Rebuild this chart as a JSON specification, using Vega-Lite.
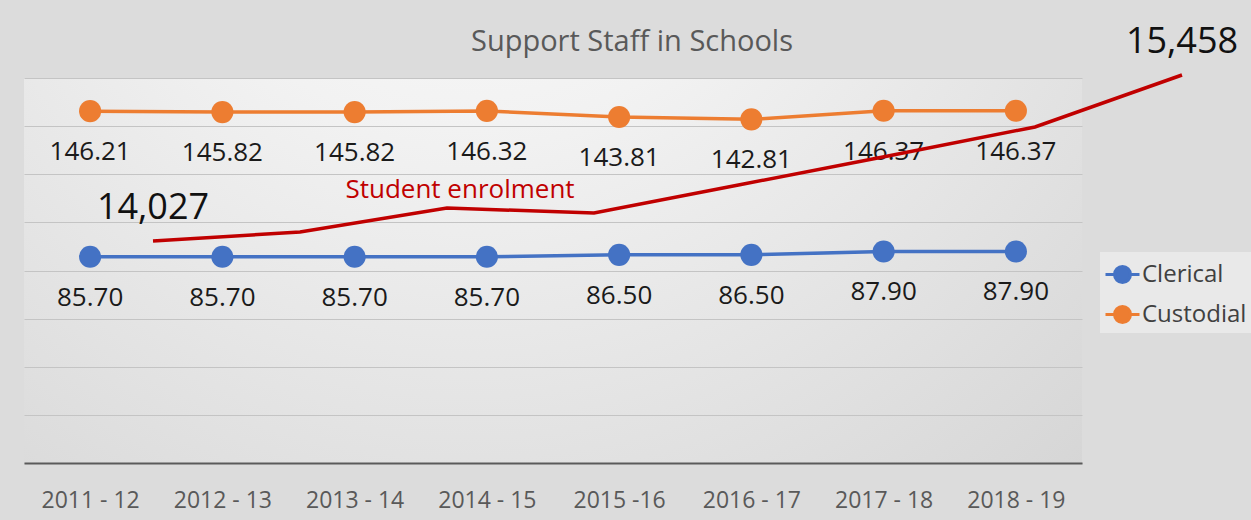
{
  "$schema": "https://vega.github.io/schema/vega-lite/v6.json",
  "width": 1058,
  "height": 385,
  "autosize": {"type": "none"},
  "padding": {"left": 24, "top": 78, "right": 169, "bottom": 57},
  "background": "#dcdcdc",
  "config": {
    "font": "Open Sans",
    "view": {
      "stroke": null,
      "fill": {
        "gradient": "radial",
        "x1": 0.42, "y1": 0.05, "x2": 0.42, "y2": 0.05,
        "r1": 0, "r2": 0.9,
        "stops": [
          {"offset": 0, "color": "#fdfdfd"},
          {"offset": 0.35, "color": "#f2f2f2"},
          {"offset": 1, "color": "#d4d4d4"}
        ]
      }
    }
  },
  "title": {
    "text": "Support Staff in Schools",
    "font": "Open Sans",
    "fontSize": 29,
    "fontWeight": "normal",
    "color": "#595959",
    "anchor": "middle",
    "frame": "group",
    "dx": 79,
    "baseline": "alphabetic",
    "offset": -56
  },
  "layer": [
    {
      "data": {
        "values": [
          {"year": "2011 - 12", "type": "Clerical", "value": 85.70},
          {"year": "2012 - 13", "type": "Clerical", "value": 85.70},
          {"year": "2013 - 14", "type": "Clerical", "value": 85.70},
          {"year": "2014 - 15", "type": "Clerical", "value": 85.70},
          {"year": "2015 -16", "type": "Clerical", "value": 86.50},
          {"year": "2016 - 17", "type": "Clerical", "value": 86.50},
          {"year": "2017 - 18", "type": "Clerical", "value": 87.90},
          {"year": "2018 - 19", "type": "Clerical", "value": 87.90},
          {"year": "2011 - 12", "type": "Custodial", "value": 146.21},
          {"year": "2012 - 13", "type": "Custodial", "value": 145.82},
          {"year": "2013 - 14", "type": "Custodial", "value": 145.82},
          {"year": "2014 - 15", "type": "Custodial", "value": 146.32},
          {"year": "2015 -16", "type": "Custodial", "value": 143.81},
          {"year": "2016 - 17", "type": "Custodial", "value": 142.81},
          {"year": "2017 - 18", "type": "Custodial", "value": 146.37},
          {"year": "2018 - 19", "type": "Custodial", "value": 146.37}
        ]
      },
      "encoding": {
        "x": {
          "field": "year",
          "type": "ordinal",
          "sort": null,
          "scale": {"type": "point", "padding": 0.5},
          "axis": {
            "title": null,
            "labelAngle": 0,
            "labelFont": "Open Sans",
            "labelFontSize": 23,
            "labelColor": "#595959",
            "labelPadding": 44,
            "labelBaseline": "alphabetic",
            "ticks": false,
            "grid": false,
            "domainColor": "#5a5a5a",
            "domainWidth": 2
          }
        },
        "y": {
          "field": "value",
          "type": "quantitative",
          "scale": {"domain": [0, 160], "nice": false},
          "axis": {
            "title": null,
            "labels": false,
            "ticks": false,
            "domain": false,
            "values": [0, 20, 40, 60, 80, 100, 120, 140, 160],
            "gridColor": "#c4c4c4",
            "gridWidth": 1.2
          }
        }
      },
      "layer": [
        {
          "mark": {"type": "line", "strokeWidth": 3.5},
          "encoding": {
            "color": {
              "field": "type",
              "type": "nominal",
              "scale": {"domain": ["Clerical", "Custodial"], "range": ["#4472c4", "#ed7d31"]},
              "legend": {
                "title": null,
                "orient": "none",
                "legendX": 1076,
                "legendY": 174,
                "fillColor": "#e9e9e9",
                "padding": 4,
                "labelFont": "Open Sans",
                "labelFontSize": 24,
                "labelColor": "#404040",
                "labelOffset": 1,
                "rowPadding": 7,
                "symbolType": "M-1,0H-0.47A0.47,0.47 0 1,1 0.47,0A0.47,0.47 0 1,1 -0.47,0M0.47,0H1",
                "symbolSize": 1156,
                "symbolStrokeWidth": 3,
                "symbolOpacity": 1,
                "encode": {
                  "symbols": {
                    "update": {
                      "fill": {"scale": "color", "field": "value"},
                      "stroke": {"scale": "color", "field": "value"},
                      "opacity": {"value": 1}
                    }
                  }
                }
              }
            }
          }
        },
        {
          "mark": {"type": "point", "filled": true, "size": 490, "opacity": 1},
          "encoding": {
            "color": {"field": "type", "type": "nominal"}
          }
        },
        {
          "mark": {
            "type": "text",
            "baseline": "alphabetic",
            "dy": 49,
            "fontSize": 26,
            "font": "Open Sans",
            "color": "#1a1a1a"
          },
          "encoding": {
            "text": {"field": "value", "type": "quantitative", "format": ".2f"}
          }
        }
      ]
    },
    {
      "data": {
        "values": [
          {"idx": 0, "enrol": 14027},
          {"idx": 1, "enrol": 14105},
          {"idx": 2, "enrol": 14311},
          {"idx": 3, "enrol": 14268},
          {"idx": 4, "enrol": 14514},
          {"idx": 5, "enrol": 14760},
          {"idx": 6, "enrol": 15010},
          {"idx": 7, "enrol": 15458}
        ]
      },
      "encoding": {
        "x": {
          "field": "idx",
          "type": "quantitative",
          "scale": {"domain": [-0.8776, 6.3197], "nice": false, "zero": false},
          "axis": null
        },
        "y": {
          "field": "enrol",
          "type": "quantitative",
          "scale": {"domain": [12113, 15432], "nice": false, "zero": false},
          "axis": null
        }
      },
      "layer": [
        {
          "mark": {"type": "line", "color": "#c00000", "strokeWidth": 3.5}
        },
        {
          "transform": [{"filter": "datum.idx == 0 || datum.idx == 7"}],
          "mark": {
            "type": "text",
            "baseline": "alphabetic",
            "dy": -22,
            "fontSize": 36,
            "font": "Open Sans",
            "color": "#111111"
          },
          "encoding": {
            "text": {"field": "enrol", "type": "quantitative", "format": ","}
          }
        },
        {
          "data": {"values": [{"idx": 2, "enrol": 14311, "label": "Student enrolment"}]},
          "mark": {
            "type": "text",
            "baseline": "alphabetic",
            "dx": 13,
            "dy": -10,
            "fontSize": 26,
            "font": "Open Sans",
            "color": "#c00000"
          },
          "encoding": {
            "text": {"field": "label", "type": "nominal"}
          }
        }
      ]
    }
  ],
  "resolve": {"scale": {"x": "independent", "y": "independent"}}
}
